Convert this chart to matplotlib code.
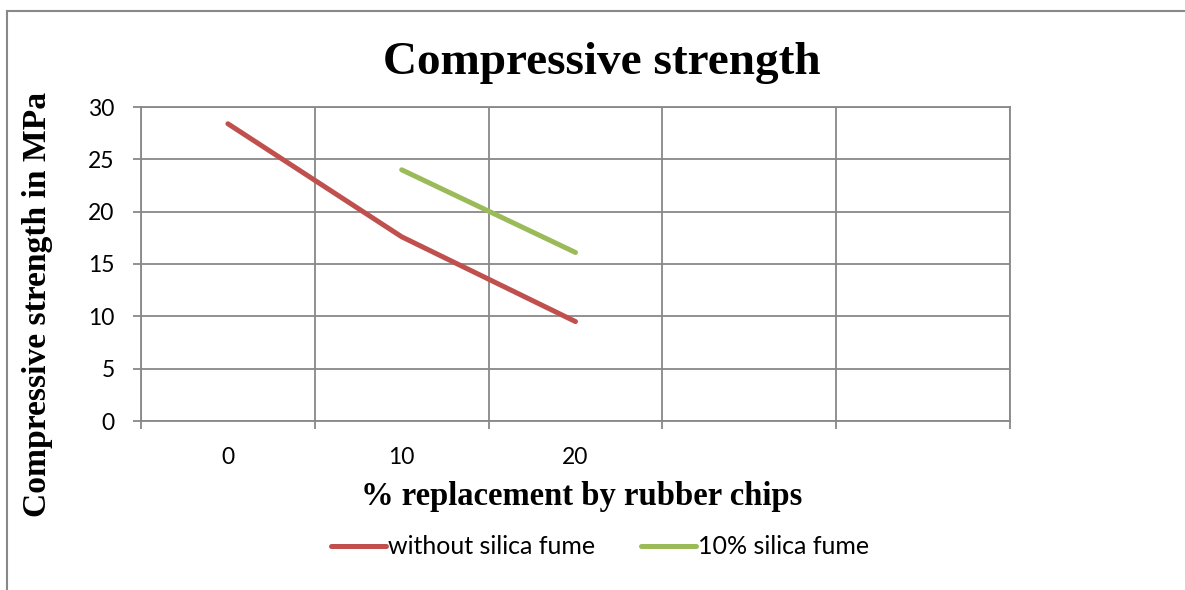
import matplotlib.pyplot as plt
from matplotlib.lines import Line2D

# strength data (MPa) per % rubber chips; empty slots keep the category axis 5 wide
categories = ["0", "10", "20", "", ""]
without_sf = [28.4, 17.6, 9.5]
with_sf_10 = [None, 24.0, 16.1]

RED = "#C0504D"
GREEN = "#9BBB59"
GRID = "#888888"
SERIF = "Liberation Serif"
SANS = "Lato"

fig = plt.figure(figsize=(11.85, 5.9), dpi=100)
ax = fig.add_axes([141 / 1185, 1 - 421 / 590, (1010 - 141) / 1185, (421 - 107) / 590])

x = list(range(len(categories)))
ax.plot(x[:3], without_sf, color=RED, lw=3.6, solid_capstyle="round",
        label="without silica fume", zorder=3)
xs = [i for i, v in zip(x, with_sf_10) if v is not None]
ys = [v for v in with_sf_10 if v is not None]
ax.plot(xs, ys, color=GREEN, lw=3.6, solid_capstyle="round",
        label="10% silica fume", zorder=3)

ax.set_xlim(-0.5, len(categories) - 0.5)
ax.set_ylim(0, 30)
ax.set_yticks(range(0, 31, 5))
ax.set_xticks(x)
ax.set_xticklabels(categories)
ax.set_xticks([i - 0.5 for i in range(len(categories) + 1)], minor=True)

ax.grid(True, axis="y", which="major", color=GRID, lw=1.3)
ax.grid(True, axis="x", which="minor", color=GRID, lw=1.3)
ax.tick_params(axis="x", which="major", length=0, pad=19)
ax.tick_params(axis="x", which="minor", length=6, width=1.3, color=GRID, direction="out")
ax.tick_params(axis="y", length=6, width=1.3, color=GRID, direction="out", pad=13)
for lab in ax.get_xticklabels() + ax.get_yticklabels():
    lab.set_fontfamily(SANS)
    lab.set_fontsize(16.5)
for s in ax.spines.values():
    s.set_color(GRID)
    s.set_linewidth(1.3)
ax.set_axisbelow(True)

fig.text(602 / 1185, 1 - 63 / 590, "Compressive strength", family=SERIF,
         weight="bold", fontsize=34, ha="center", va="center")
fig.text(582 / 1185, 1 - 497 / 590, "% replacement by rubber chips", family=SERIF,
         weight="bold", fontsize=23.5, ha="center", va="center")
fig.text(38 / 1185, 1 - 304 / 590, "Compressive strength in MPa", family=SERIF,
         weight="bold", fontsize=24.2, ha="center", va="center", rotation=90)

handles = [Line2D([], [], color=RED, lw=3.6, solid_capstyle="round"),
           Line2D([], [], color=GREEN, lw=3.6, solid_capstyle="round")]
fig.legend(handles, ["without silica fume", "10% silica fume"], loc="center",
           bbox_to_anchor=(600 / 1185, 1 - 547 / 590), ncol=2, frameon=False,
           prop={"family": SANS, "size": 18}, handlelength=2.2, handletextpad=0.1,
           columnspacing=1.8, borderpad=0, borderaxespad=0)

# outer chart frame (left and top edges)
fig.add_artist(Line2D([7 / 1185, 7 / 1185], [0, 1 - 11 / 590], color=GRID, lw=1.5,
                      transform=fig.transFigure))
fig.add_artist(Line2D([7 / 1185, 1], [1 - 11 / 590, 1 - 11 / 590], color=GRID, lw=1.5,
                      transform=fig.transFigure))

fig.savefig("out.png", dpi=100)
